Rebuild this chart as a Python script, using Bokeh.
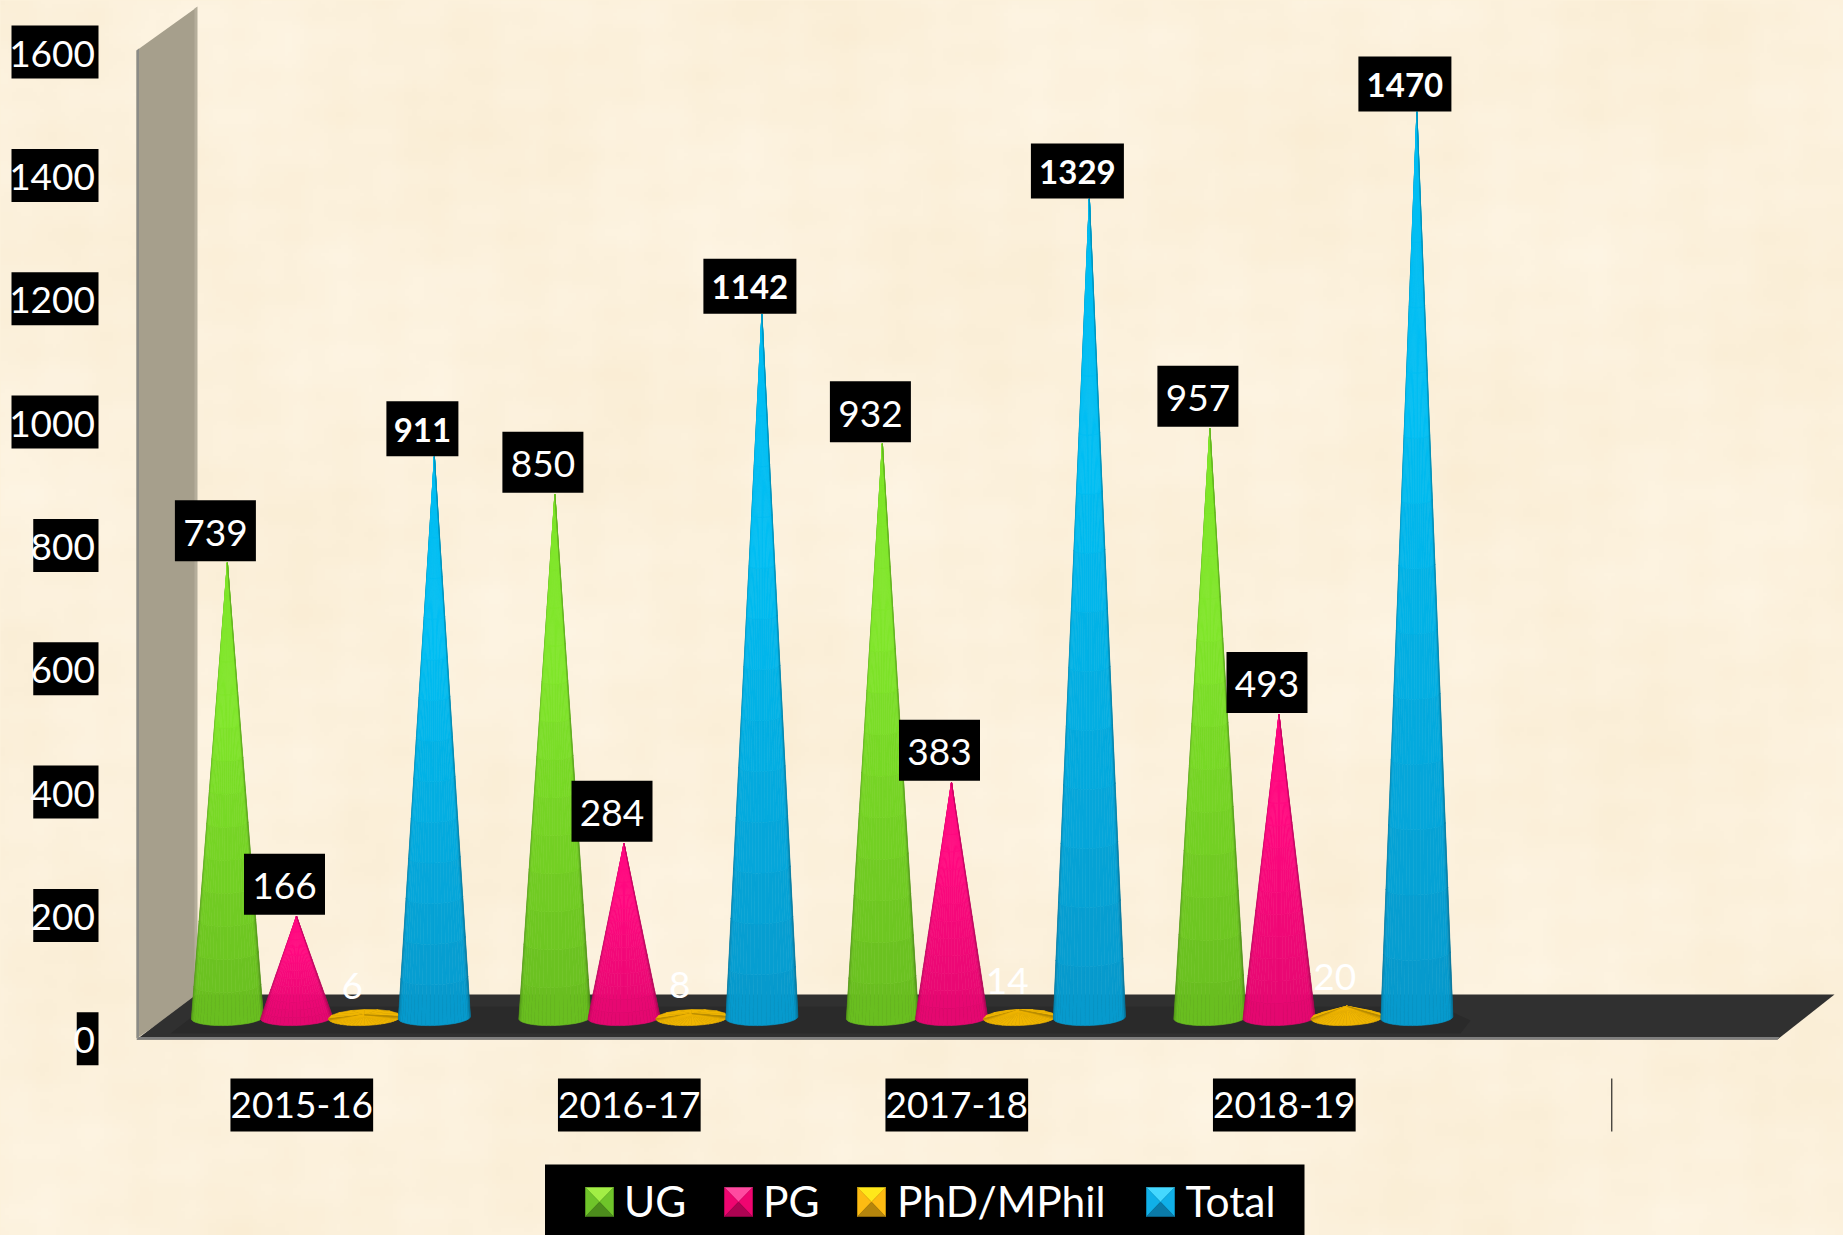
import numpy as np
from bokeh.embed import file_html
from bokeh.resources import INLINE
from bokeh.plotting import figure
from bokeh.models import LinearAxis, FixedTicker, Range1d
from bokeh.core.properties import value

categories = ["2015-16", "2016-17", "2017-18", "2018-19", ""]
ug = [739, 850, 932, 957]
pg = [166, 284, 383, 493]
phd = [6, 8, 14, 20]
total = [911, 1142, 1329, 1470]
y_ticks = [0, 200, 400, 600, 800, 1000, 1200, 1400, 1600]
series_names = ["UG", "PG", "PhD/MPhil", "Total"]

W, H = 1843, 1235
X0, Y0 = 0, 0
PX_X0, PX_GROUP = 301.3, 327.5
SLOPE, ZERO, FRONT_ZERO = 0.6167, 1018.0, 1039.8
FONT = "Lato"


def xd(px):
    return (np.asarray(px, dtype=float) - PX_X0) / PX_GROUP


def yd(py):
    return (ZERO - np.asarray(py, dtype=float)) / SLOPE


p = figure(width=W, height=H, output_backend="svg", toolbar_location=None,
           x_axis_type=None, y_axis_type=None, min_border=0,
           x_range=Range1d(float(xd(X0)), float(xd(X0 + W))),
           y_range=Range1d(float(yd(Y0 + H)), float(yd(Y0))))
p.grid.visible = False
p.outline_line_color = None
p.background_fill_color = "#fdf2dc"
p.border_fill_color = "#fdf2dc"
p.extra_y_ranges["front"] = Range1d((FRONT_ZERO - (Y0 + H)) / SLOPE, (FRONT_ZERO - Y0) / SLOPE)

# parchment backdrop: a smooth deterministic mottling
ny, nx = 309, 461
yy, xx = np.mgrid[0:ny, 0:nx].astype(float)
m = (np.sin(xx * .061 + yy * .033 + 1.) + np.sin(xx * .027 - yy * .071 + 2.3)
     + .9 * np.sin(xx * .13 + yy * .09) * np.sin(xx * .07 - yy * .15 + .7)
     + .9 * np.sin(xx * .23 - yy * .19 + 4.) * np.cos(xx * .11 + yy * .27)
     + .5 * np.sin(xx * .41 + yy * .37 + 1.7) * np.sin(xx * .29 - yy * .43))
m = m / np.abs(m).max()
img = np.zeros((ny, nx), dtype=np.uint32)
v = img.view(np.uint8).reshape((ny, nx, 4))
v[..., 0] = 252 + 2 * m
v[..., 1] = 241 + 4 * m
v[..., 2] = 220 + 8 * m
v[..., 3] = 255
p.image_rgba(image=[img], x=float(xd(0)), y=float(yd(1235)), dw=float(xd(1843) - xd(0)),
             dh=float(yd(0) - yd(1235)))

# wall and floor of the 3D box
wx = [136, 136, 196, 196]
wy = [1038, 50, 7, 997]
p.patch(xd(wx), yd(wy), fill_color="#a69f8c", line_color=None)
p.patch(xd([136, 136, 138.5, 138.5]), yd([1038, 50, 48, 1036]), fill_color="#8b8b86", line_color=None)
p.patch(xd([194, 194, 197, 197]), yd([994, 8, 6, 994]), fill_color="#b5ae9b", line_color=None)
p.patch(xd([136, 196, 1834, 1777]), yd([1039, 994, 994, 1039]), fill_color="#303030", line_color=None)
p.patch(xd([170, 205, 1440, 1470, 1460]), yd([1033, 1006, 1006, 1020, 1033]), fill_color="#2a2a2a", line_color=None)
p.patch(xd([136, 138, 1779, 1777]), yd([1039, 1036.5, 1036.5, 1039]), fill_color="#7e7e7e", line_color=None)

PALETTE = {
    # base centre, top centre
    "UG": ((0x68, 0xbc, 0x20), (0x80, 0xe6, 0x2a)),
    "PG": ((0xe3, 0x08, 0x70), (0xff, 0x08, 0x80)),
    "PhD/MPhil": ((0xe4, 0xa6, 0x05), (0xf5, 0xbc, 0x02)),
    "Total": ((0x08, 0x98, 0xcb), (0x00, 0xbe, 0xf3)),
}
CONE_DX = [-74.4, -5.3, 62.5, 132.6]
R, B, TILT, YC = 36.0, 8.0, 1.2, 1017.0
N_TH, N_H = 26, 14


def cone(xs, ys, colors, cx_px, val, name):
    base, top = PALETTE[name]
    apex = ZERO - SLOPE * val
    hgt = YC - apex
    front = np.linspace(-np.pi / 2, np.pi / 2, N_TH + 1)
    order = [(front[i], front[i + 1]) for i in range(N_TH)]
    if hgt < 2 * B + 3:
        back = np.linspace(np.pi / 2, 3 * np.pi / 2, 9)
        order = [(back[i], back[i + 1]) for i in range(8)] + order
    levels = np.linspace(0, 1, N_H + 1) if val > 100 else np.array([0., 1.])
    for a, b in order:
        mid = (a + b) / 2
        shade = 0.72 + 0.28 * min(1.0, max(0.0, np.cos(mid)) * 2.6)
        if abs(mid) > np.pi / 2:
            shade = 1.0
        for k in range(len(levels) - 1):
            t0, t1 = levels[k], levels[k + 1]
            q = min(1.0, (t0 + t1) * 0.75)

            def pt(th, t):
                f = 1 - t
                x = cx_px + R * f * np.sin(th)
                y = YC + f * (B * np.cos(th) - TILT * np.sin(th)) - t * hgt
                return x, y
            col = [int(shade * (bc + (tc - bc) * q)) for bc, tc in zip(base, top)]
            pts = [pt(a, t0), pt(b, t0), pt(b, t1), pt(a, t1)]
            xs.append(xd([c[0] for c in pts]).tolist())
            ys.append(yd([c[1] for c in pts]).tolist())
            colors.append("#%02x%02x%02x" % tuple(col))


label_x, label_y, label_txt = [], [], []
blab_x, blab_y, blab_txt = [], [], []
wlab_x, wlab_y, wlab_txt = [], [], []
box_x, box_y, box_w, box_h = [], [], [], []
for g in range(4):
    xs, ys, colors = [], [], []
    for s, (name, arr) in enumerate(zip(series_names, (ug, pg, phd, total))):
        val = arr[g]
        cx = PX_X0 + PX_GROUP * g + CONE_DX[s]
        cone(xs, ys, colors, cx, val, name)
        tip = ZERO - SLOPE * val
        lx = float(xd(cx - 12))
        if name == "PhD/MPhil":
            wlab_x.append(lx)
            wlab_y.append(float(yd(tip - 29)))
            wlab_txt.append(str(val))
        elif name == "Total":
            bw = 72 if val < 1000 else 93
            box_x.append(lx); box_y.append(float(yd(tip - 28))); box_w.append(bw / PX_GROUP); box_h.append(55 / SLOPE)
            blab_x.append(lx); blab_y.append(float(yd(tip - 27))); blab_txt.append(str(val))
        else:
            box_x.append(lx); box_y.append(float(yd(tip - 32))); box_w.append(81 / PX_GROUP); box_h.append(61 / SLOPE)
            label_x.append(lx); label_y.append(float(yd(tip - 30))); label_txt.append(str(val))
    p.patches(xs, ys, fill_color=colors, line_color=colors, line_width=0.6)

p.rect(box_x, box_y, width=box_w, height=box_h, fill_color="black", line_color=None)
common = dict(text_align="center", text_baseline="middle", text_font=value(FONT))
p.text(label_x, label_y, text=label_txt, text_color="white", text_font_size="37px", **common)
p.text(blab_x, blab_y, text=blab_txt, text_color="white", text_font_size="33px", text_font_style="bold", **common)
p.text(wlab_x, wlab_y, text=wlab_txt, text_color="#ffffff", text_font_size="37px", **common)

# tick-label plates (the axis draws its labels on top of them)
ytick_w = [len(str(t)) * 21.75 for t in y_ticks]
p.rect(xd([98 - w / 2 for w in ytick_w]), [t + 1.5 / SLOPE for t in y_ticks], width=[w / PX_GROUP for w in ytick_w],
       height=53 / SLOPE, y_range_name="front", fill_color="black", line_color=None)
cat_x = list(range(len(categories)))
p.rect(cat_x[:4], [float(yd(1104.5))] * 4, width=142.7 / PX_GROUP, height=53 / SLOPE,
       fill_color="black", line_color=None)
p.segment([cat_x[4]], [float(yd(1078))], [cat_x[4]], [float(yd(1131))], line_color="black", line_width=1)

yaxis = LinearAxis(y_range_name="front", ticker=FixedTicker(ticks=y_ticks), fixed_location=float(xd(100.5)),
                   axis_line_color=None, major_tick_line_color=None, minor_tick_line_color=None,
                   major_label_standoff=0, major_label_text_color="white",
                   major_label_text_font=FONT, major_label_text_font_size="37px")
p.add_layout(yaxis, "left")
xaxis = LinearAxis(ticker=FixedTicker(ticks=cat_x), fixed_location=float(yd(1085.5)),
                   major_label_overrides={i: c for i, c in enumerate(categories)},
                   axis_line_color=None, major_tick_line_color=None, minor_tick_line_color=None,
                   major_label_standoff=0, major_label_text_color="white",
                   major_label_text_font=FONT, major_label_text_font_size="37px")
p.add_layout(xaxis, "below")

# legend plate
p.quad(left=[float(xd(544.5))], right=[float(xd(1304))], top=[float(yd(1164))], bottom=[float(yd(1235))],
       fill_color="black", line_color=None)
SW = {"UG": ("#a2ee45", "#6fc42a", "#4c8c1c"), "PG": ("#ff4aa0", "#ef0570", "#ad0352"),
      "PhD/MPhil": ("#ffe81a", "#fdbb12", "#b5850c"), "Total": ("#45d8ff", "#10b0e8", "#0a7aa8")}
sw_left = [585, 724, 857, 1146]
tx_left = [623.5, 762.5, 896.5, 1185]
for name, sl, tl in zip(series_names, sw_left, tx_left):
    top_c, mid_c, bot_c = SW[name]
    l, r, t, b = sl, sl + 28, 1187, 1216
    cxp, cyp = (l + r) / 2, (t + b) / 2
    tris = [([l, r, cxp], [t, t, cyp], top_c), ([l, l, cxp], [t, b, cyp], mid_c),
            ([r, r, cxp], [t, b, cyp], mid_c), ([l, r, cxp], [b, b, cyp], bot_c)]
    for a, b_, c in tris:
        p.patch(xd(a), yd(b_), fill_color=c, line_color=c, line_width=0.5)
    p.text([float(xd(tl))], [float(yd(1200))], text=[name], text_color="white", text_font_size="42.5px",
           text_align="left", text_baseline="middle", text_font=value(FONT))

html = file_html(p, INLINE)
html = html.replace("<head>", "<head><style>html,body{background:#fdf2dc}</style>", 1)
open("out.html", "w").write(html)
